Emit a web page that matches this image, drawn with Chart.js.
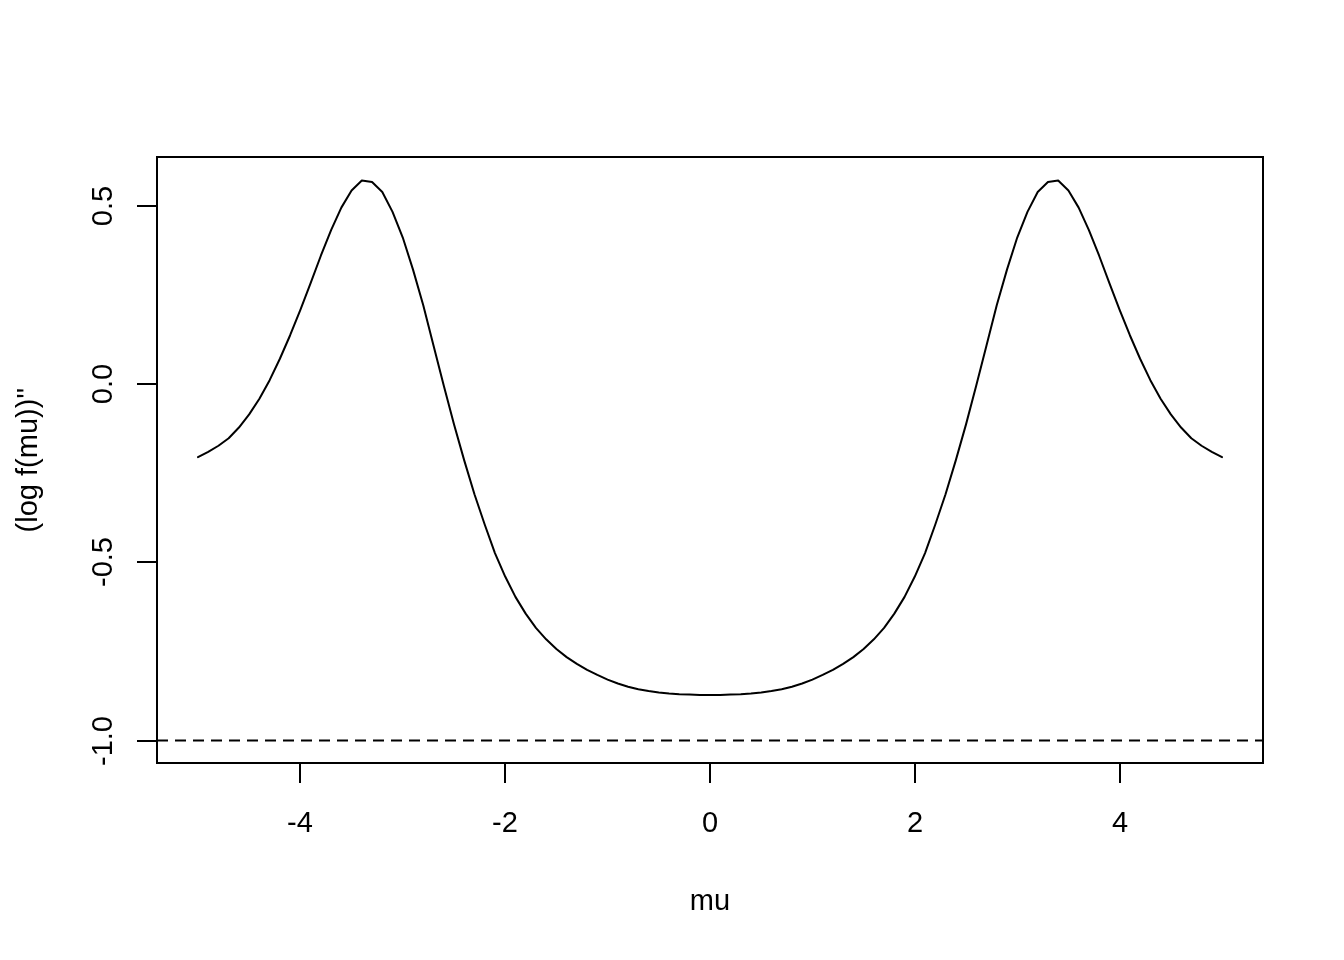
<!DOCTYPE html>
<html>
<head>
<meta charset="utf-8">
<script src="https://cdn.jsdelivr.net/npm/chart.js@4/dist/chart.umd.min.js"></script>
<style>
  html, body { margin: 0; padding: 0; background: #ffffff; }
  #wrap { width: 1344px; height: 960px; }
</style>
</head>
<body>
<div id="wrap"><canvas id="c" width="1344" height="960"></canvas></div>
<script>
// ---- data ----
const muValues = [
  -5.0, -4.9, -4.8, -4.7, -4.6, -4.5, -4.4, -4.3, -4.2, -4.1,
  -4.0, -3.9, -3.8, -3.7, -3.6, -3.5, -3.4, -3.3, -3.2, -3.1,
  -3.0, -2.9, -2.8, -2.7, -2.6, -2.5, -2.4, -2.3, -2.2, -2.1,
  -2.0, -1.9, -1.8, -1.7, -1.6, -1.5, -1.4, -1.3, -1.2, -1.1,
  -1.0, -0.9, -0.8, -0.7, -0.6, -0.5, -0.4, -0.3, -0.2, -0.1,
   0.0,
   0.1,  0.2,  0.3,  0.4,  0.5,  0.6,  0.7,  0.8,  0.9,  1.0,
   1.1,  1.2,  1.3,  1.4,  1.5,  1.6,  1.7,  1.8,  1.9,  2.0,
   2.1,  2.2,  2.3,  2.4,  2.5,  2.6,  2.7,  2.8,  2.9,  3.0,
   3.1,  3.2,  3.3,  3.4,  3.5,  3.6,  3.7,  3.8,  3.9,  4.0,
   4.1,  4.2,  4.3,  4.4,  4.5,  4.6,  4.7,  4.8,  4.9,  5.0
];
const logFSecond = [
  -0.205, -0.190, -0.173, -0.152, -0.122, -0.085, -0.041,  0.011,  0.071,  0.137,
   0.208,  0.283,  0.360,  0.432,  0.495,  0.543,  0.571,  0.567,  0.539,  0.483,
   0.411,  0.321,  0.221,  0.108, -0.004, -0.113, -0.214, -0.309, -0.394, -0.474,
  -0.540, -0.597, -0.644, -0.684, -0.716, -0.743, -0.766, -0.785, -0.802, -0.816,
  -0.829, -0.840, -0.849, -0.856, -0.861, -0.865, -0.868, -0.870, -0.871, -0.872,
  -0.872,
  -0.872, -0.871, -0.870, -0.868, -0.865, -0.861, -0.856, -0.849, -0.840, -0.829,
  -0.816, -0.802, -0.785, -0.766, -0.743, -0.716, -0.684, -0.644, -0.597, -0.540,
  -0.474, -0.394, -0.309, -0.214, -0.113, -0.004,  0.108,  0.221,  0.321,  0.411,
   0.483,  0.539,  0.567,  0.571,  0.543,  0.495,  0.432,  0.360,  0.283,  0.208,
   0.137,  0.071,  0.011, -0.041, -0.085, -0.122, -0.152, -0.173, -0.190, -0.205
];
const refLevel = [-1.0];
const xTicks = [-4, -2, 0, 2, 4];
const xTickLabels = ["-4", "-2", "0", "2", "4"];
const yTicks = [-1.0, -0.5, 0.0, 0.5];
const yTickLabels = ["-1.0", "-0.5", "0.0", "0.5"];
const xTitle = "mu";
const yTitle = "(log f(mu))''";
const xRange = [-5.4, 5.4];
const yRange = [-1.063, 0.637];

// ---- build chart ----
const curvePts = muValues.map((m, i) => ({ x: m, y: logFSecond[i] }));
const refPts = [{ x: xRange[0], y: refLevel[0] }, { x: xRange[1], y: refLevel[0] }];

const FONT = '29px "Liberation Sans", Arial, Helvetica, sans-serif';

const rAxes = {
  id: 'rAxes',
  afterDraw(chart) {
    const ctx = chart.ctx;
    const a = chart.chartArea;
    const xs = chart.scales.x, ys = chart.scales.y;
    ctx.save();
    ctx.strokeStyle = '#000';
    ctx.fillStyle = '#000';
    ctx.lineWidth = 2;
    ctx.setLineDash([]);
    // box
    ctx.strokeRect(a.left, a.top, a.right - a.left, a.bottom - a.top);
    // x ticks
    ctx.font = FONT;
    ctx.textAlign = 'center';
    ctx.textBaseline = 'alphabetic';
    xTicks.forEach((t, i) => {
      const px = Math.round(xs.getPixelForValue(t));
      ctx.beginPath();
      ctx.moveTo(px, a.bottom);
      ctx.lineTo(px, a.bottom + 20);
      ctx.stroke();
      ctx.fillText(xTickLabels[i], px, a.bottom + 69);
    });
    ctx.fillText(xTitle, (a.left + a.right) / 2, a.bottom + 147);
    // y ticks
    yTicks.forEach((t, i) => {
      const py = Math.round(ys.getPixelForValue(t));
      ctx.beginPath();
      ctx.moveTo(a.left, py);
      ctx.lineTo(a.left - 20, py);
      ctx.stroke();
      ctx.save();
      ctx.translate(a.left - 45, py);
      ctx.rotate(-Math.PI / 2);
      ctx.textAlign = 'center';
      ctx.fillText(yTickLabels[i], 0, 0);
      ctx.restore();
    });
    ctx.save();
    ctx.translate(a.left - 120, (a.top + a.bottom) / 2);
    ctx.rotate(-Math.PI / 2);
    ctx.textAlign = 'center';
    ctx.fillText(yTitle, 0, 0);
    ctx.restore();
    ctx.restore();
  }
};

new Chart(document.getElementById('c'), {
  type: 'scatter',
  data: {
    datasets: [
      {
        data: curvePts,
        showLine: true,
        borderColor: '#000',
        borderWidth: 2,
        borderJoinStyle: 'round',
        borderCapStyle: 'round',
        pointRadius: 0,
        tension: 0,
        fill: false
      },
      {
        data: refPts,
        showLine: true,
        borderColor: '#000',
        borderWidth: 2,
        borderDash: [11, 7],
        pointRadius: 0,
        fill: false
      }
    ]
  },
  options: {
    responsive: false,
    animation: false,
    devicePixelRatio: 1,
    clip: false,
    layout: { padding: { left: 157, right: 81, top: 157, bottom: 197 } },
    plugins: { legend: { display: false }, tooltip: { enabled: false } },
    scales: {
      x: { type: 'linear', min: xRange[0], max: xRange[1], display: false },
      y: { type: 'linear', min: yRange[0], max: yRange[1], display: false }
    }
  },
  plugins: [rAxes]
});
</script>
</body>
</html>
